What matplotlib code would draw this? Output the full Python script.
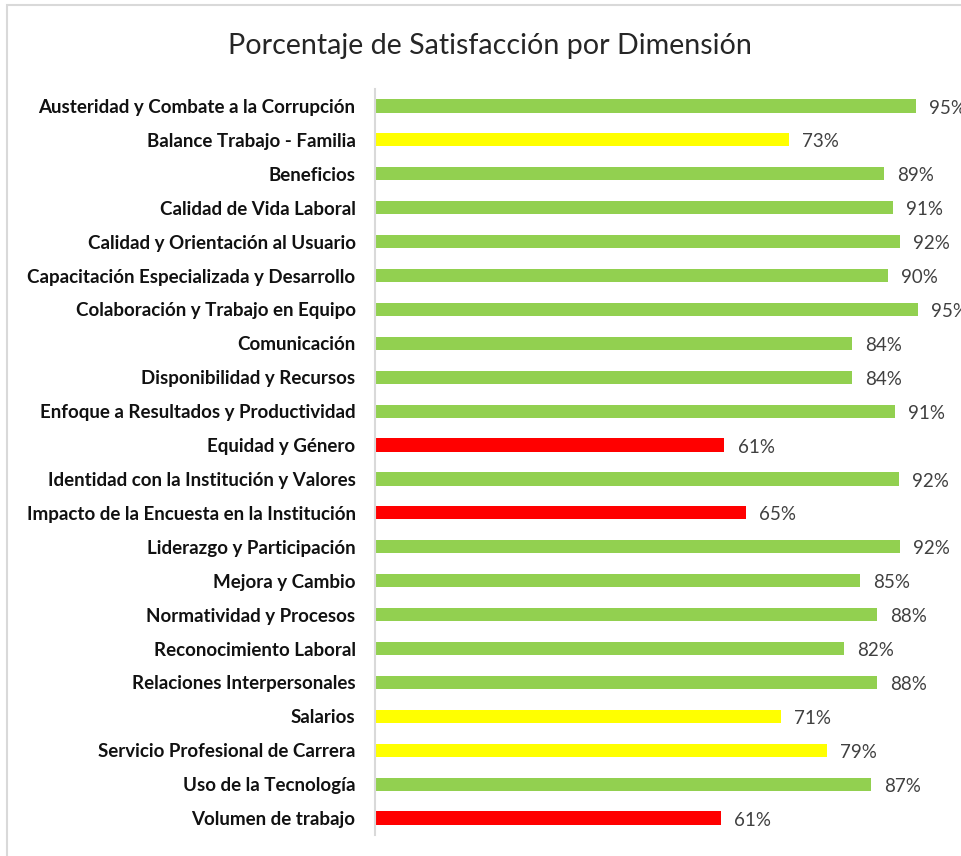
import matplotlib
matplotlib.use("Agg")
import matplotlib.pyplot as plt
from matplotlib.patches import Rectangle

categories = [
    "Austeridad y Combate a la Corrupción",
    "Balance Trabajo - Familia",
    "Beneficios",
    "Calidad de Vida Laboral",
    "Calidad y Orientación al Usuario",
    "Capacitación Especializada y Desarrollo",
    "Colaboración y Trabajo en Equipo",
    "Comunicación",
    "Disponibilidad y Recursos",
    "Enfoque a Resultados y Productividad",
    "Equidad y Género",
    "Identidad con la Institución y Valores",
    "Impacto de la Encuesta en la Institución",
    "Liderazgo y Participación",
    "Mejora y Cambio",
    "Normatividad y Procesos",
    "Reconocimiento Laboral",
    "Relaciones Interpersonales",
    "Salarios",
    "Servicio Profesional de Carrera",
    "Uso de la Tecnología",
    "Volumen de trabajo",
]
values = [95.1, 72.8, 89.4, 91.0, 92.3, 90.2, 95.4, 83.8, 83.8, 91.4, 61.4,
          92.1, 65.2, 92.3, 85.3, 88.3, 82.4, 88.3, 71.4, 79.4, 87.2, 60.8]
title = "Porcentaje de Satisfacción por Dimensión"

GREEN, YELLOW, RED = "#92D050", "#FFFF00", "#FF0000"
def color_for(v):
    if v < 70:
        return RED
    if v < 80:
        return YELLOW
    return GREEN

W, H = 962, 856
fig = plt.figure(figsize=(W / 100, H / 100), dpi=100)
fig.patch.set_facecolor("white")

# chart border (right and bottom edges fall outside the image)
fig.patches.append(Rectangle((7 / W, -0.05), 1.2, 1 - 5 / H + 0.05,
                             transform=fig.transFigure, fill=False,
                             edgecolor="#d9d9d9", linewidth=1.5))

ax = fig.add_axes([375 / W, 1 - 835 / H, (944 - 375) / W, (835 - 89) / H])
y = list(range(len(categories)))
ax.barh(y, values, height=0.39, color=[color_for(v) for v in values])
ax.set_ylim(len(categories) - 0.5, -0.5)
ax.set_xlim(0, 100)
ax.set_yticks(y)
ax.set_yticklabels(categories, fontfamily="Lato", fontweight="bold",
                   fontsize=13.5, color="#111111")
ax.tick_params(axis="y", length=0, pad=14)
ax.set_xticks([])
for s in ["top", "right", "bottom"]:
    ax.spines[s].set_visible(False)
ax.spines["left"].set_color("#d9d9d9")
ax.spines["left"].set_linewidth(1.5)

for yi, v in zip(y, values):
    ax.annotate(f"{round(v):d}%", (v, yi), xytext=(9.5, -1.5),
                textcoords="offset points", va="center", ha="left",
                fontfamily="Lato", fontsize=13.5, color="#404040",
                annotation_clip=False)

fig.text(490 / W, 1 - 46 / H, title, ha="center", va="center",
         fontfamily="Lato", fontsize=20.6, color="#262626")

fig.savefig("out.png", dpi=100)
